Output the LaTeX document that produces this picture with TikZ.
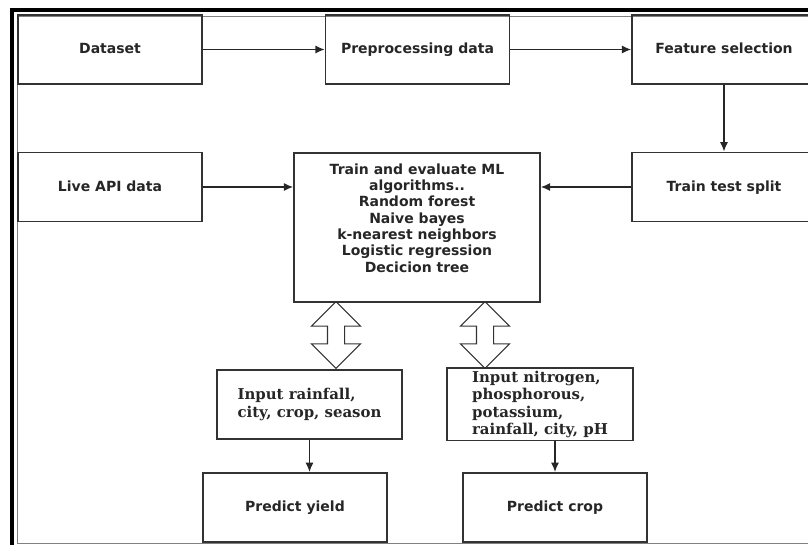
\documentclass[tikz,border=0pt]{standalone}
\usepackage{fontspec}
\setmainfont{DejaVu Sans}
\newfontfamily\inputfont{DejaVu Serif}
\usepackage{tikz}
\usetikzlibrary{arrows}
\usetikzlibrary{arrows.meta}
\usetikzlibrary{shapes}
\usetikzlibrary{shapes.arrows}
\usetikzlibrary{positioning}
\tikzset{>=latex}
\tikzstyle{stepbox} = [rectangle, draw=black!80, line width=1.2pt, minimum width=138pt, minimum height=52pt, inner sep=2pt, text=black!85, text height=1.6ex, text depth=0.4ex, font=\fontsize{10.5}{12.2}\selectfont\bfseries]
\tikzstyle{inbox} = [rectangle, draw=black!80, line width=1.2pt, minimum height=52pt, inner sep=2pt, text=black!85, align=left, font=\inputfont\fontsize{11.2}{13.1}\selectfont\bfseries]
\tikzstyle{flow} = [-{Latex[length=7pt, width=6pt]}, line width=1pt, draw=black!85]
\tikzstyle{twoway} = [double arrow, draw=black!80, line width=0.8pt, rotate=90, minimum height=50pt, minimum width=36pt, double arrow head extend=12pt, inner xsep=0pt, inner ysep=6pt]

\begin{document}
\begin{tikzpicture}[x=0.75pt, y=-0.75pt]
\useasboundingbox (0,0) rectangle (808,545);
% frame round the figure
\draw [line width=3pt] (12,545) -- (12,10) -- (808,10);
\draw [draw=gray, line width=0.6pt] (808,543) -- (17.5,543) -- (17.5,16) -- (808,16);
% top row
\node [stepbox] (dataset) at (110,49.5) {Dataset};
\node [stepbox] (prep) at (417.5,49.5) {Preprocessing data};
\node [stepbox] (featsel) at (724,49.5) {Feature selection};
% middle row
\node [stepbox] (live) at (110,187) {Live API data};
\node [stepbox, minimum width=184.5pt, minimum height=111.75pt] (ml) at (417,227.5) {};
\node [align=center, text=black!85, font=\fontsize{10.5}{12.2}\selectfont\bfseries] (mltext) at (417,218) {Train and evaluate ML\\ algorithms..\\ Random forest\\ Naive bayes\\ k-nearest neighbors\\ Logistic regression\\ Decicion tree};
\node [stepbox] (split) at (724,187) {Train test split};
% inputs and predictions
\node [twoway] (link1) at (336,335) {};
\node [twoway] (link2) at (485,335) {};
\node [inbox, minimum width=138.75pt] (inrain) at (309.5,404.5) {Input rainfall,\\ city, crop, season};
\node [inbox, minimum width=139.5pt] (innitro) at (540,404.5) {Input nitrogen,\\ phosphorous,\\ potassium,\\ rainfall, city, pH};
\node [stepbox] (yield) at (295,507.5) {Predict yield};
\node [stepbox] (crop) at (555,507.5) {Predict crop};
\draw [flow] (dataset) to (prep);
\draw [flow] (prep) to (featsel);
\draw [flow] (featsel) to (split);
\draw [flow] (live.east) to (ml.west |- live.east);
\draw [flow] (split.west) to (ml.east |- split.west);
\draw [flow] (inrain.south) to (inrain.south |- yield.north);
\draw [flow] (crop.north |- innitro.south) to (crop.north);
\end{tikzpicture}
\end{document}
